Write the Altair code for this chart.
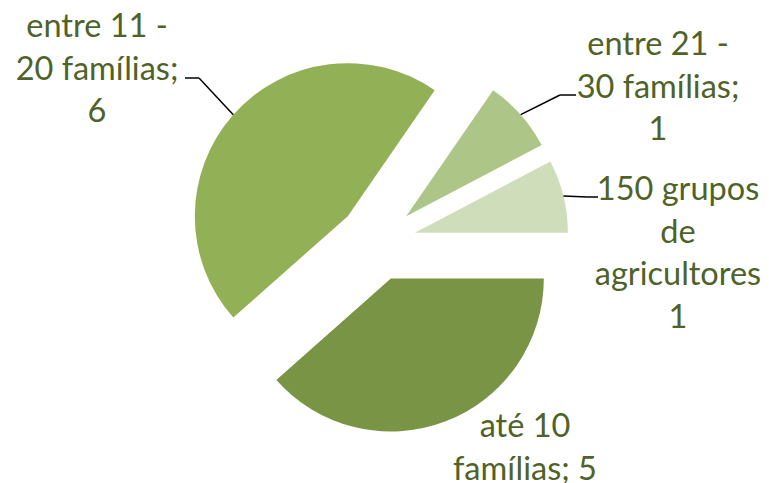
import math
import altair as alt
import pandas as pd

# ---- data ----
categories = ["até 10 famílias", "entre 11 - 20 famílias", "entre 21 - 30 famílias", "150 grupos de agricultores"]
values = [5, 6, 1, 1]
labels = ["até 10\nfamílias; 5", "entre 11 -\n20 famílias;\n6", "entre 21 -\n30 famílias;\n1", "150 grupos\nde\nagricultores\n1"]

# ---- styling / layout ----
colors = ["#7A9445", "#92B156", "#ADC687", "#CFDDBB"]
text_color = "#4F6228"
label_x = [517, 89, 650, 670]
label_y = [419, 19, 37, 182]   # centre of first line
has_leader = [False, True, True, True]
elbow_x = [0, 191, 552, 579]
elbow_y = [0, 70, 87, 189]
end_x = [0, 177, 568, 590]
end_y = [0, 70, 87, 189]

CX, CY = 369, 234          # pie centre (px)
R = 153                    # radius (px)
EXPLODE = 39               # explosion distance (px)
START = math.pi / 2        # first slice angle

df = pd.DataFrame({
    "idx": list(range(len(categories))),
    "cat": categories,
    "value": values,
    "label": labels,
    "lx": label_x, "ly": label_y,
    "leader": has_leader,
    "ex": elbow_x, "ey": elbow_y,
    "hx": end_x, "hy": end_y,
})

base = (
    alt.Chart(df)
    .transform_joinaggregate(total="sum(value)")
    .transform_window(cum="sum(value)", sort=[alt.SortField("idx")], frame=[None, 0])
    .transform_calculate(
        t0=f"{START} + 2*PI*(datum.cum - datum.value)/datum.total",
        t1=f"{START} + 2*PI*datum.cum/datum.total",
    )
    .transform_calculate(mid="(datum.t0 + datum.t1)/2")
    .transform_calculate(
        cx=f"{CX} + {EXPLODE}*sin(datum.mid)",
        cy=f"{CY} - {EXPLODE}*cos(datum.mid)",
    )
    .transform_calculate(
        ax=f"datum.cx + {R}*sin(datum.mid)",
        ay=f"datum.cy - {R}*cos(datum.mid)",
    )
)

arcs = base.mark_arc(radius=R, strokeWidth=0).encode(
    x=alt.X("cx:Q", scale=None, axis=None),
    y=alt.Y("cy:Q", scale=None, axis=None),
    theta=alt.Theta("t0:Q", scale=None),
    theta2="t1:Q",
    color=alt.Color("cat:N", scale=alt.Scale(domain=categories, range=colors), legend=None),
)

leader1 = base.transform_filter("datum.leader").mark_rule(color="black", strokeWidth=1.5).encode(
    x=alt.X("ax:Q", scale=None, axis=None),
    y=alt.Y("ay:Q", scale=None, axis=None),
    x2="ex:Q",
    y2="ey:Q",
)
leader2 = base.transform_filter("datum.leader").mark_rule(color="black", strokeWidth=1.5).encode(
    x=alt.X("ex:Q", scale=None, axis=None),
    y=alt.Y("ey:Q", scale=None, axis=None),
    x2="hx:Q",
    y2="hy:Q",
)

text = base.mark_text(
    font="Lato", fontSize=32.5, color=text_color, align="center", baseline="middle",
    lineBreak="\n", lineHeight=42.5,
).encode(
    x=alt.X("lx:Q", scale=None, axis=None),
    y=alt.Y("ly:Q", scale=None, axis=None),
    text="label:N",
)

chart = (
    alt.layer(arcs, leader1, leader2, text)
    .properties(width=753, height=475, padding=0, autosize="none")
    .configure_view(stroke=None)
)

chart.save("out.html", embed_options={"renderer": "svg", "actions": False})
